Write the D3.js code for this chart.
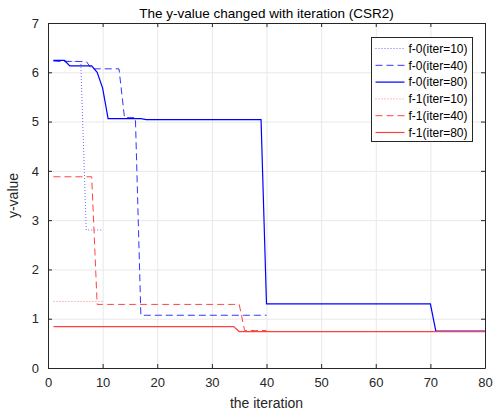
<!DOCTYPE html>
<html>
<head>
<meta charset="utf-8">
<script src="https://cdn.jsdelivr.net/npm/d3@7"></script>
<style>
  body { margin: 0; background: #fff; }
  svg { display: block; font-family: "Liberation Sans", Arial, sans-serif; }
  .grid line { stroke: #e8e8e8; }
  .axis text { font-size: 13px; fill: #262626; }
</style>
</head>
<body>
<svg width="503" height="412"></svg>
<script>
// values per iteration, starting at iteration 1
let f0_iter10 = [6.24, 6.24, 6.24, 6.22, 6.22, 6.22, 2.80, 2.80, 2.80, 2.80];
let f0_iter40 = [6.23, 6.22, 6.22, 6.22, 6.22, 6.22, 6.22, 6.07, 6.07, 6.07,
                 6.07, 6.07, 6.07, 5.08, 5.08, 5.08, 1.07, 1.07, 1.07, 1.07,
                 1.07, 1.07, 1.07, 1.07, 1.07, 1.07, 1.07, 1.07, 1.07, 1.07,
                 1.07, 1.07, 1.07, 1.07, 1.07, 1.07, 1.07, 1.07, 1.07, 1.07];
let f0_iter80 = [6.24, 6.24, 6.24, 6.13, 6.13, 6.13, 6.13, 6.13, 6.00, 5.68,
                 5.06, 5.06, 5.06, 5.06, 5.06, 5.06, 5.06, 5.04, 5.04, 5.04,
                 5.04, 5.04, 5.04, 5.04, 5.04, 5.04, 5.04, 5.04, 5.04, 5.04,
                 5.04, 5.04, 5.04, 5.04, 5.04, 5.04, 5.04, 5.04, 5.04, 1.30,
                 1.30, 1.30, 1.30, 1.30, 1.30, 1.30, 1.30, 1.30, 1.30, 1.30,
                 1.30, 1.30, 1.30, 1.30, 1.30, 1.30, 1.30, 1.30, 1.30, 1.30,
                 1.30, 1.30, 1.30, 1.30, 1.30, 1.30, 1.30, 1.30, 1.30, 1.30,
                 0.75, 0.75, 0.75, 0.75, 0.75, 0.75, 0.75, 0.75, 0.75, 0.75];
let f1_iter10 = [1.35, 1.35, 1.35, 1.35, 1.35, 1.35, 1.35, 1.35, 1.35, 1.35];
let f1_iter40 = [3.88, 3.88, 3.88, 3.88, 3.88, 3.88, 3.88, 3.88, 1.29, 1.29,
                 1.29, 1.29, 1.29, 1.29, 1.29, 1.29, 1.29, 1.29, 1.29, 1.29,
                 1.29, 1.29, 1.29, 1.29, 1.29, 1.29, 1.29, 1.29, 1.29, 1.29,
                 1.29, 1.29, 1.29, 1.29, 1.29, 0.76, 0.76, 0.76, 0.76, 0.76];
let f1_iter80 = [0.84, 0.84, 0.84, 0.84, 0.84, 0.84, 0.84, 0.84, 0.84, 0.84,
                 0.84, 0.84, 0.84, 0.84, 0.84, 0.84, 0.84, 0.84, 0.84, 0.84,
                 0.84, 0.84, 0.84, 0.84, 0.84, 0.84, 0.84, 0.84, 0.84, 0.84,
                 0.84, 0.84, 0.84, 0.84, 0.74, 0.74, 0.74, 0.74, 0.74, 0.74,
                 0.74, 0.74, 0.74, 0.74, 0.74, 0.74, 0.74, 0.74, 0.74, 0.74,
                 0.74, 0.74, 0.74, 0.74, 0.74, 0.74, 0.74, 0.74, 0.74, 0.74,
                 0.74, 0.74, 0.74, 0.74, 0.74, 0.74, 0.74, 0.74, 0.74, 0.74,
                 0.74, 0.74, 0.74, 0.74, 0.74, 0.74, 0.74, 0.74, 0.74, 0.74];

let seriesNames = ["f-0(iter=10)", "f-0(iter=40)", "f-0(iter=80)",
                   "f-1(iter=10)", "f-1(iter=40)", "f-1(iter=80)"];
let seriesValues = [f0_iter10, f0_iter40, f0_iter80, f1_iter10, f1_iter40, f1_iter80];
let xTicks = [0, 10, 20, 30, 40, 50, 60, 70, 80];
let yTicks = [0, 1, 2, 3, 4, 5, 6, 7];

let styles = [
  {color: "#6a6aff", dash: "1,2",  width: 1},
  {color: "#3333ff", dash: "7,4",  width: 1},
  {color: "#0000ff", dash: null,   width: 1.2},
  {color: "#ff8080", dash: "1,2",  width: 1},
  {color: "#ff4444", dash: "7,4",  width: 1},
  {color: "#ff4040", dash: null,   width: 1.2}
];

let svg = d3.select("svg"),
    margin = {top: 23, right: 18, bottom: 44, left: 48},
    width = +svg.attr("width") - margin.left - margin.right,
    height = +svg.attr("height") - margin.top - margin.bottom;

let g = svg.append("g")
  .attr("transform", "translate(" + margin.left + "," + margin.top + ")");

let x = d3.scaleLinear().domain([0, 80]).range([0, width]);
let y = d3.scaleLinear().domain([0, 7]).range([height, 0]);

// grid
g.append("g").attr("class", "grid")
  .selectAll("line").data(xTicks.slice(1, -1)).enter().append("line")
    .attr("x1", d => x(d) + 0.5).attr("x2", d => x(d) + 0.5)
    .attr("y1", 0).attr("y2", height);
g.append("g").attr("class", "grid")
  .selectAll("line").data(yTicks.slice(1, -1)).enter().append("line")
    .attr("y1", d => y(d) + 0.5).attr("y2", d => y(d) + 0.5)
    .attr("x1", 0).attr("x2", width);

// lines
let line = d3.line()
  .x((d, i) => x(i + 1))
  .y(d => y(d));

seriesValues.forEach(function(vals, k) {
  g.append("path")
    .datum(vals)
    .attr("fill", "none")
    .attr("stroke", styles[k].color)
    .attr("stroke-width", styles[k].width)
    .attr("stroke-dasharray", styles[k].dash)
    .attr("d", line);
});

// axes, MATLAB box style with inward ticks
let axisStyle = function(sel) {
  sel.select(".domain").attr("stroke", "#262626");
  sel.selectAll(".tick line").attr("stroke", "#262626");
};
g.append("g").attr("class", "axis")
  .attr("transform", "translate(0," + height + ")")
  .call(d3.axisBottom(x).tickValues(xTicks).tickSizeInner(-4).tickSizeOuter(0).tickPadding(10))
  .call(axisStyle);
g.append("g").attr("class", "axis")
  .call(d3.axisTop(x).tickValues(xTicks).tickSizeInner(-4).tickSizeOuter(0).tickFormat(""))
  .call(axisStyle);
g.append("g").attr("class", "axis")
  .call(d3.axisLeft(y).tickValues(yTicks).tickFormat(d3.format("d"))
    .tickSizeInner(-4).tickSizeOuter(0).tickPadding(9))
  .call(axisStyle);
g.append("g").attr("class", "axis")
  .attr("transform", "translate(" + width + ",0)")
  .call(d3.axisRight(y).tickValues(yTicks).tickSizeInner(-4).tickSizeOuter(0).tickFormat(""))
  .call(axisStyle);

// title and labels
svg.append("text")
  .attr("x", margin.left + width / 2).attr("y", 18)
  .attr("text-anchor", "middle")
  .attr("font-size", "13.5px").attr("fill", "#000")
  .text("The y-value changed with iteration (CSR2)");

svg.append("text")
  .attr("x", margin.left + width / 2).attr("y", 408)
  .attr("text-anchor", "middle")
  .attr("font-size", "14px").attr("fill", "#262626")
  .text("the iteration");

svg.append("text")
  .attr("transform", "translate(18," + (margin.top + height / 2) + ") rotate(-90)")
  .attr("text-anchor", "middle")
  .attr("font-size", "14px").attr("fill", "#262626")
  .text("y-value");

// legend
let legend = svg.append("g").attr("transform", "translate(371.5,37.5)");
legend.append("rect")
  .attr("width", 101).attr("height", 104)
  .attr("fill", "#fff").attr("stroke", "#262626");
seriesNames.forEach(function(name, k) {
  let row = legend.append("g").attr("transform", "translate(0," + (11 + k * 16.8) + ")");
  row.append("line")
    .attr("x1", 4).attr("x2", 33)
    .attr("stroke", styles[k].color)
    .attr("stroke-width", styles[k].width)
    .attr("stroke-dasharray", styles[k].dash);
  row.append("text")
    .attr("x", 37).attr("dy", "0.35em")
    .attr("font-size", "12px").attr("fill", "#000")
    .text(name);
});
</script>
</body>
</html>
